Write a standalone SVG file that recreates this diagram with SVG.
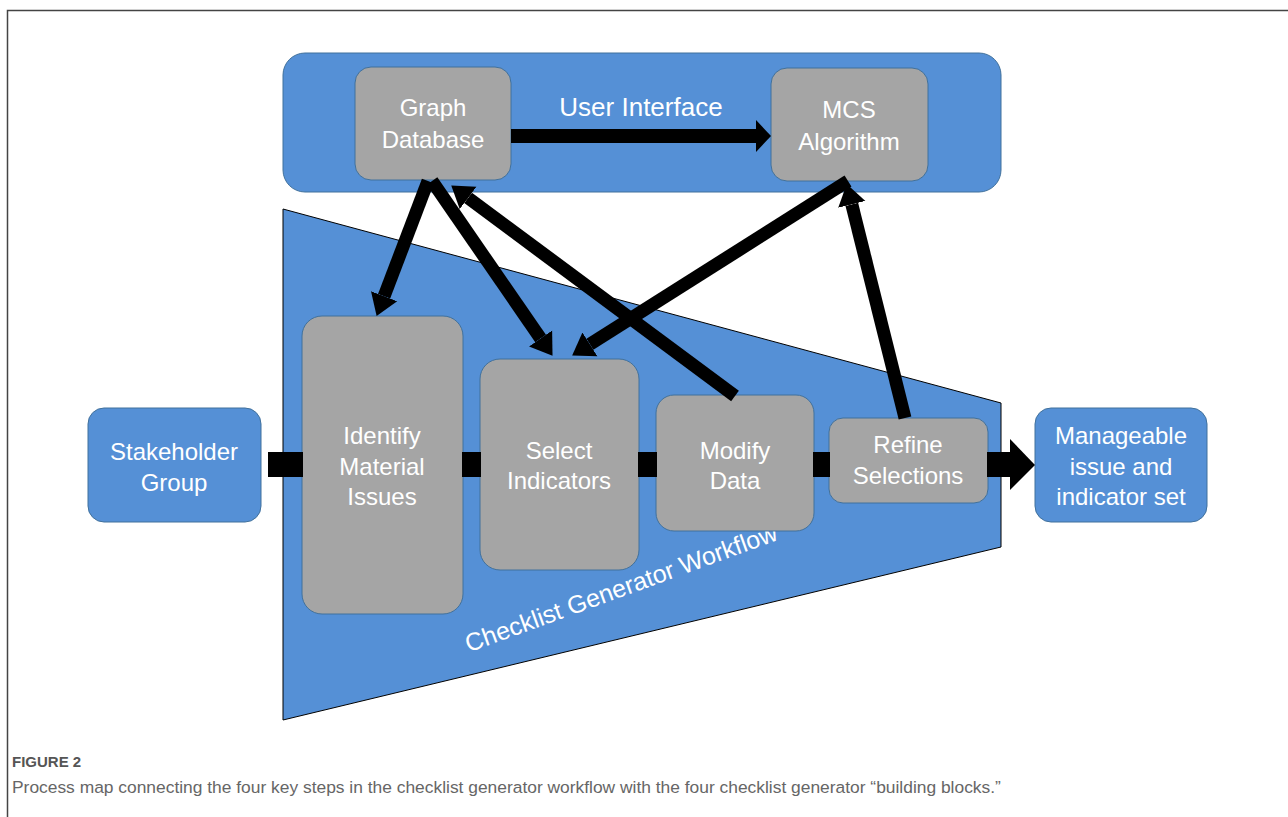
<svg xmlns="http://www.w3.org/2000/svg" width="1288" height="817" viewBox="0 0 1288 817">
<defs>
<style>
.blue{fill:#5590D6;stroke:#41719C;stroke-width:1}
.gray{fill:#A5A5A5;stroke:#41719C;stroke-width:1}
.t{font-family:"Liberation Sans",Arial,sans-serif;font-size:24px;fill:#fff;text-anchor:middle}
.ar{stroke:#000;stroke-width:13;fill:none;marker-end:url(#head)}
.bar{fill:#000}
.cap{font-family:"Liberation Sans",Arial,sans-serif;fill:#666}
</style>
<marker id="head" markerUnits="userSpaceOnUse" markerWidth="22" markerHeight="30" viewBox="0 -15 22 30" refX="0" refY="0" orient="auto">
<path d="M0,-14 L21,0 L0,14 Z" fill="#000"/>
</marker>
</defs>
<rect width="1288" height="817" fill="#fff"/>
<path d="M7.5,817 L7.5,10.5 L1288,10.5" fill="none" stroke="#444" stroke-width="1.5"/>

<g id="user-interface">
<rect class="blue" x="283" y="53" width="718" height="139" rx="22"/>
<text class="t" x="641" y="116" style="font-size:26px">User Interface</text>
</g>
<g id="workflow">
<polygon points="283,209 1001,403 1001,547 283,720" fill="#5590D6" stroke="#000" stroke-width="1"/>
<text class="t" x="624" y="596" transform="rotate(-20 624 596)" style="font-size:25px">Checklist Generator Workflow</text>
</g>
<g id="graph-database">
<rect class="gray" x="355" y="67" width="156" height="113" rx="16"/>
<text class="t" x="433" y="116">Graph</text>
<text class="t" x="433" y="148">Database</text>
</g>
<g id="mcs-algorithm">
<rect class="gray" x="771" y="68" width="157" height="113" rx="16"/>
<text class="t" x="849" y="118">MCS</text>
<text class="t" x="849" y="150">Algorithm</text>
</g>
<g id="stakeholder-group">
<rect class="blue" x="88" y="408" width="173" height="114" rx="16"/>
<text class="t" x="174" y="460">Stakeholder</text>
<text class="t" x="174" y="491">Group</text>
</g>
<g id="identify">
<rect class="gray" x="302" y="316" width="161" height="298" rx="20"/>
<text class="t" x="382" y="444">Identify</text>
<text class="t" x="382" y="475">Material</text>
<text class="t" x="382" y="505">Issues</text>
</g>
<g id="select">
<rect class="gray" x="480" y="359" width="159" height="211" rx="20"/>
<text class="t" x="559" y="459">Select</text>
<text class="t" x="559" y="489">Indicators</text>
</g>
<g id="modify">
<rect class="gray" x="656" y="395" width="158" height="136" rx="18"/>
<text class="t" x="735" y="459">Modify</text>
<text class="t" x="735" y="489">Data</text>
</g>
<g id="refine">
<rect class="gray" x="829" y="418" width="159" height="85" rx="14"/>
<text class="t" x="908" y="453">Refine</text>
<text class="t" x="908" y="484">Selections</text>
</g>
<g id="manageable">
<rect class="blue" x="1035" y="408" width="172" height="114" rx="16"/>
<text class="t" x="1121" y="444">Manageable</text>
<text class="t" x="1121" y="475">issue and</text>
<text class="t" x="1121" y="505">indicator set</text>
</g>

<g id="connectors">
<rect class="bar" x="511" y="129" width="246" height="14"/>
<polygon points="756,120 771,136 756,152" fill="#000"/>
<line class="ar" x1="428" y1="181" x2="384.1" y2="296.3"/>
<line class="ar" x1="432" y1="181" x2="540.6" y2="338.5"/>
<line class="ar" x1="735" y1="396" x2="468.1" y2="197.9"/>
<line class="ar" x1="848" y1="181" x2="589.9" y2="344.3"/>
<line class="ar" x1="905" y1="418" x2="851.8" y2="204.4"/>
<rect class="bar" x="268" y="452" width="35" height="25"/>
<rect class="bar" x="462" y="452" width="19" height="25"/>
<rect class="bar" x="638" y="452" width="19" height="25"/>
<rect class="bar" x="813" y="452" width="17" height="25"/>
<rect class="bar" x="987" y="452" width="24" height="25"/>
<polygon points="1010,439 1035,465 1010,490" fill="#000"/>
</g>

<text class="cap" x="12" y="767" style="font-size:15px;font-weight:bold;fill:#555">FIGURE 2</text>
<text class="cap" x="12" y="793" style="font-size:17.4px">Process map connecting the four key steps in the checklist generator workflow with the four checklist generator “building blocks.”</text>
</svg>
